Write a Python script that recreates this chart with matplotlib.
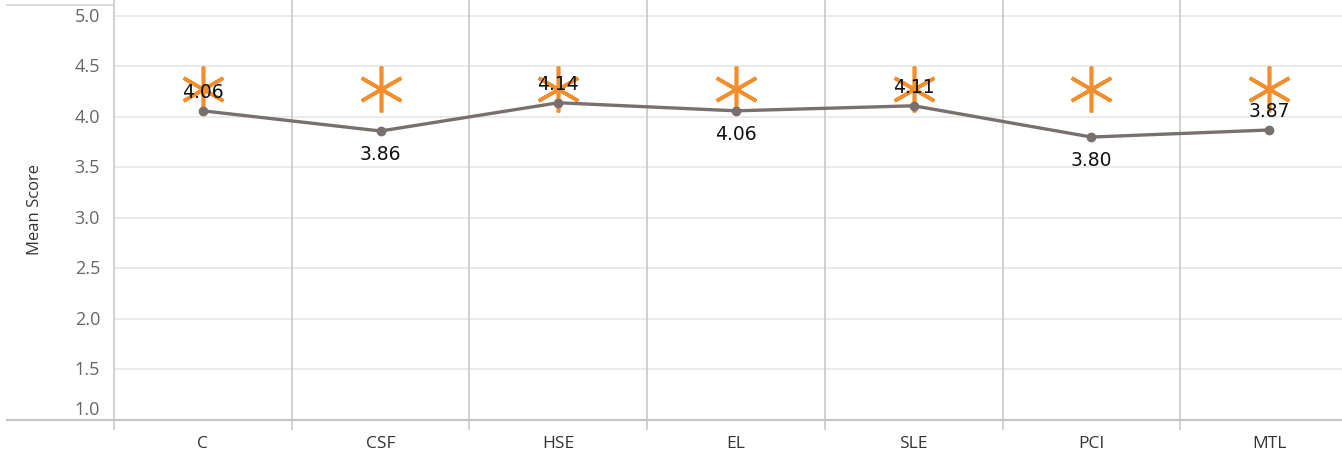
import matplotlib.pyplot as plt
from matplotlib.lines import Line2D
import matplotlib.transforms as mtransforms

# data
categories   = ["C", "CSF", "HSE", "EL", "SLE", "PCI", "MTL"]
mean_scores  = [4.06, 3.86, 4.14, 4.06, 4.11, 3.80, 3.87]
target_marks = [4.28, 4.28, 4.28, 4.28, 4.28, 4.28, 4.28]
label_above  = [True, False, True, False, True, False, True]
y_ticks      = [1.0, 1.5, 2.0, 2.5, 3.0, 3.5, 4.0, 4.5, 5.0]

line_color = "#79706e"
star_color = "#f28e2b"

fig = plt.figure(figsize=(13.42, 4.56), dpi=100)
ax = fig.add_axes([114 / 1342, 35 / 456, 1 - 114 / 1342, 421 / 456])

x = list(range(len(categories)))

ax.set_xlim(-0.5, 6.41)
ax.set_ylim(0.994, 5.169)

for s in ax.spines.values():
    s.set_visible(False)

# horizontal grid
for v in y_ticks[1:]:
    ax.axhline(v, color="#e6e6e6", lw=1.2, zorder=0)

# vertical category dividers (reach a bit below the axis)
trans = mtransforms.blended_transform_factory(ax.transData, ax.transAxes)
for i in range(len(categories) + 1):
    ax.plot([i - 0.5, i - 0.5], [-0.022, 1.0], transform=trans, color="#c8c8c8",
            lw=1.2, clip_on=False, zorder=1)

# bottom axis line
fig.add_artist(Line2D([7 / 1342, 1], [35 / 456, 35 / 456], color="#c4c4c4", lw=1.5))
# top left border
fig.add_artist(Line2D([7 / 1342, 114 / 1342], [1 - 6 / 456, 1 - 6 / 456], color="#d4d4d4", lw=1.2))

# asterisks
ax.plot(x, target_marks, linestyle="none", marker=(6, 2, 0), ms=33, mew=2.6,
        color=star_color, zorder=3)

# mean line
ax.plot(x, mean_scores, color=line_color, lw=2.4, marker="o", ms=6, zorder=4)

for xi, v, up in zip(x, mean_scores, label_above):
    ax.annotate("%.2f" % v, (xi, v), xytext=(0, 14 if up else -16.5), textcoords="offset points",
                ha="center", va="center", fontsize=13.5, color="#111111", zorder=5,
                family="DejaVu Sans")

# y tick labels
ax.set_yticks([])
for v in y_ticks:
    ax.annotate("%.1f" % v, (0, v), xycoords=("axes fraction", "data"),
                xytext=(-14, 10 if v == 1.0 else 0), textcoords="offset pixels",
                ha="right", va="center", fontsize=13, color="#666666", family="Open Sans")

ax.set_xticks(x)
ax.set_xticklabels(categories, fontsize=12.5, color="#333333", family="Open Sans")
ax.tick_params(axis="x", length=0, pad=11)

fig.text(35 / 1342, 1 - 210 / 456, "Mean Score", rotation=90, ha="center", va="center",
         fontsize=12, color="#333333", family="Open Sans")

fig.savefig("out.png", dpi=100)
